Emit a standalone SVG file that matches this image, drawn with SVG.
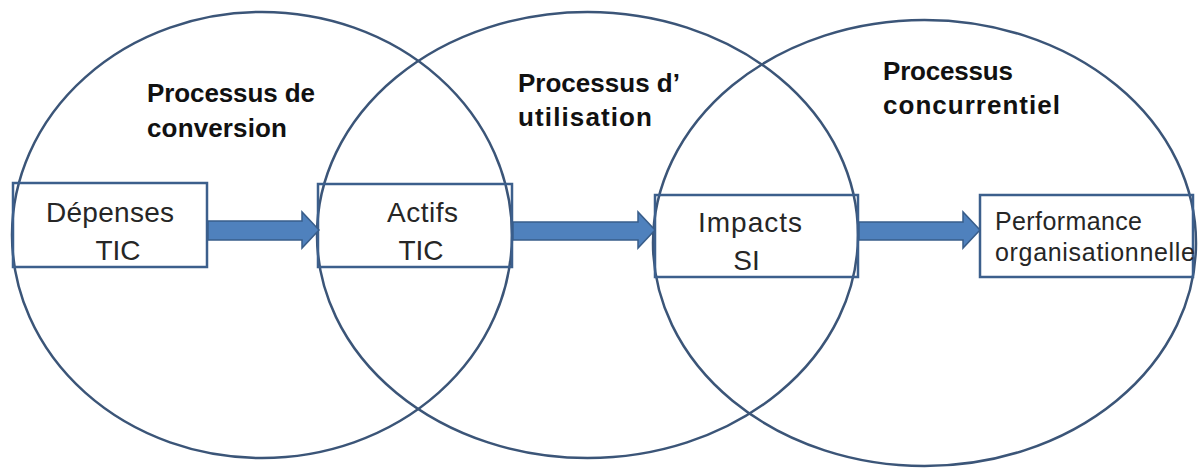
<svg xmlns="http://www.w3.org/2000/svg" width="1200" height="468" viewBox="0 0 1200 468">
<style>
.ell{fill:none;stroke:#3b5578;stroke-width:2.5}
.box{fill:none;stroke:#3c5f8c;stroke-width:2.5}
.arr{fill:#4f81bd;stroke:#385d8a;stroke-width:1.5}
.lbl{font-family:"Liberation Sans",Arial,sans-serif;font-size:28px;fill:#262626;text-anchor:middle}
.lbl2{font-family:"Liberation Sans",Arial,sans-serif;font-size:25px;fill:#262626}
.ttl{font-family:"Liberation Sans",Arial,sans-serif;font-size:26px;font-weight:bold;fill:#111}
</style>
<rect width="1200" height="468" fill="#fff"/>
<g id="ellipses">
<ellipse id="circle-conversion" class="ell" cx="262" cy="235" rx="250" ry="223"/>
<ellipse id="circle-utilisation" class="ell" cx="587.5" cy="235" rx="270.5" ry="223"/>
<ellipse id="circle-concurrentiel" class="ell" cx="924.5" cy="243" rx="271.5" ry="223"/>
</g>
<g id="titles">
<text class="ttl" x="147" y="102" textLength="168">Processus de</text>
<text class="ttl" x="147" y="137" textLength="140">conversion</text>
<text class="ttl" x="518" y="92" textLength="162">Processus d’</text>
<text class="ttl" x="518" y="126" textLength="134">utilisation</text>
<text class="ttl" x="883" y="80" textLength="130">Processus</text>
<text class="ttl" x="883" y="114" textLength="177">concurrentiel</text>
</g>
<g id="node-depenses">
<rect class="box" x="13" y="183" width="194" height="84"/>
<text class="lbl" x="110" y="222" textLength="128">Dépenses</text>
<text class="lbl" x="118" y="260">TIC</text>
</g>
<g id="node-actifs">
<rect class="box" x="318" y="184" width="194" height="83"/>
<text class="lbl" x="422.5" y="222" textLength="71">Actifs</text>
<text class="lbl" x="421" y="260">TIC</text>
</g>
<g id="node-impacts">
<rect class="box" x="655" y="195" width="203" height="82"/>
<text class="lbl" x="750" y="232" textLength="104">Impacts</text>
<text class="lbl" x="746.5" y="270">SI</text>
</g>
<g id="node-performance">
<rect class="box" x="980" y="195" width="213" height="82"/>
<text class="lbl2" x="995" y="230" textLength="147">Performance</text>
<text class="lbl2" x="995" y="261" textLength="200">organisationnelle</text>
</g>
<g id="connectors">
<polygon class="arr" points="208,221 302,221 302,212 319,230 302,248 302,240 208,240"/>
<polygon class="arr" points="513,222 638,222 638,212 655,230 638,248 638,240 513,240"/>
<polygon class="arr" points="859,222 963,222 963,212 980,230 963,248 963,240 859,240"/>
</g>
</svg>
